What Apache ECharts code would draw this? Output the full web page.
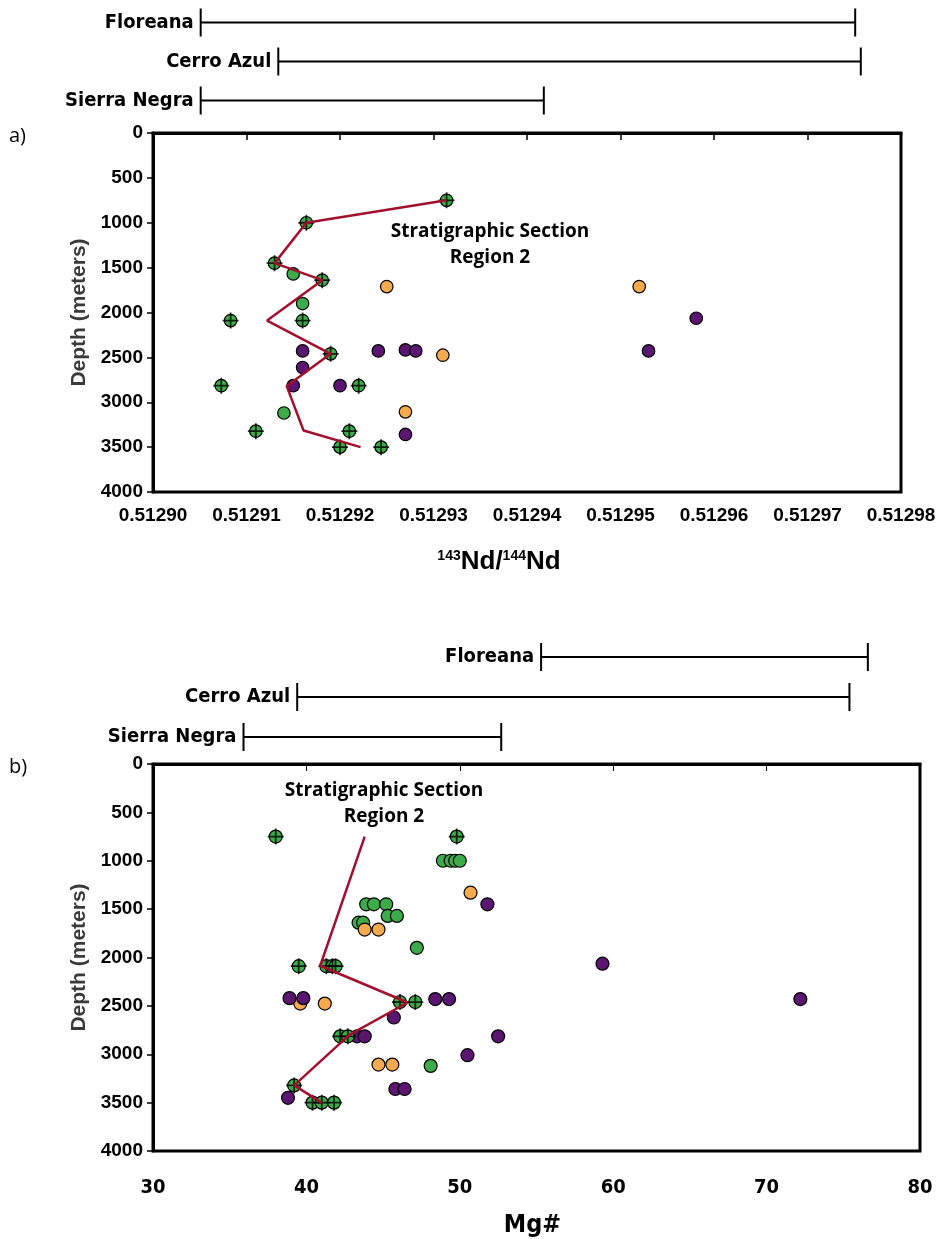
<!DOCTYPE html>
<html>
<head>
<meta charset="utf-8">
<title>Stratigraphic Section Region 2</title>
<script src="https://cdn.jsdelivr.net/npm/echarts/dist/echarts.min.js"></script>
<style>
  html, body { margin: 0; padding: 0; background: #fff; }
  #chart { width: 939px; height: 1239px; }
</style>
</head>
<body>
<div id="chart"></div>
<script>
// volcano ranges shown above each panel
const rangeNames = ["Floreana", "Cerro Azul", "Sierra Negra"];
const ndRanges = [[0.5129051, 0.5129751], [0.5129134, 0.5129757], [0.5129051, 0.5129418]];
const mgRanges = [[55.3, 76.6], [39.4, 75.4], [35.9, 52.7]];

// panel a) 143Nd/144Nd vs depth
const ndGreenCross = [[0.5129314, 750], [0.5129164, 1000], [0.512913, 1450], [0.5129181, 1640],
  [0.5129083, 2090], [0.512916, 2090], [0.512919, 2460], [0.5129073, 2815], [0.512922, 2815],
  [0.512911, 3322], [0.512921, 3322], [0.51292, 3500], [0.5129244, 3500]];
const ndGreen = [[0.512915, 1570], [0.512916, 1900], [0.512914, 3120]];
const ndPurple = [[0.512916, 2428], [0.5129241, 2428], [0.512927, 2417], [0.5129281, 2428],
  [0.512916, 2613], [0.512915, 2815], [0.51292, 2815], [0.512927, 3359], [0.5129581, 2064], [0.512953, 2428]];
const ndOrange = [[0.512925, 1711], [0.512931, 2476], [0.512927, 3107], [0.512952, 1711]];
const ndLine = [[0.5129314, 750], [0.5129164, 1000], [0.512913, 1450], [0.5129181, 1640], [0.5129122, 2090],
  [0.512919, 2460], [0.5129143, 2820], [0.5129161, 3315], [0.5129222, 3500]];

// panel b) Mg# vs depth
const mgGreenCross = [[38.0, 750], [49.8, 750], [39.5, 2090], [41.3, 2090], [41.7, 2090], [41.9, 2090],
  [46.1, 2460], [47.1, 2460], [42.2, 2815], [42.7, 2815], [39.2, 3322], [40.4, 3500], [41.0, 3500], [41.8, 3500]];
const mgGreen = [[48.9, 1000], [49.4, 1000], [49.7, 1000], [50.0, 1000], [43.9, 1450], [44.4, 1450], [45.2, 1450],
  [45.3, 1570], [45.9, 1570], [43.4, 1640], [43.7, 1640], [47.2, 1900], [48.1, 3120]];
const mgOrange = [[50.7, 1330], [43.8, 1711], [44.7, 1711], [39.6, 2476], [41.2, 2476], [44.7, 3107], [45.6, 3107]];
const mgPurple = [[51.8, 1450], [38.9, 2420], [39.8, 2420], [48.4, 2430], [49.3, 2430], [45.7, 2620],
  [43.3, 2815], [43.8, 2815], [52.5, 2815], [50.5, 3010], [45.8, 3359], [46.4, 3359], [38.8, 3450],
  [59.3, 2064], [72.2, 2430]];
const mgLine = [[43.8, 750], [40.9, 2085], [46.6, 2465], [42.8, 2800], [39.2, 3322], [41.0, 3500]];

const GREEN = "#3dab4a", PURPLE = "#5a1670", ORANGE = "#f6aa4e", RED = "#a3102e";
const PLUS = "path://M-1.1,-10H1.1V10H-1.1Z M-10,-1.1H10V1.1H-10Z";
const NARROW = "DejaVu Sans Condensed";

function rangeItem(params, api) {
  const a = api.coord([api.value(1), api.value(0)]);
  const b = api.coord([api.value(2), api.value(0)]);
  const h = 14;
  const st = { stroke: "#000", lineWidth: 2 };
  return {
    type: "group",
    children: [
      { type: "line", shape: { x1: a[0], y1: a[1], x2: b[0], y2: b[1] }, style: st },
      { type: "line", shape: { x1: a[0], y1: a[1] - h, x2: a[0], y2: a[1] + h }, style: st },
      { type: "line", shape: { x1: b[0], y1: b[1] - h, x2: b[0], y2: b[1] + h }, style: st },
      {
        type: "text", x: a[0] - 7, y: a[1],
        style: {
          text: rangeNames[params.dataIndex], align: "right", verticalAlign: "middle",
          fontFamily: NARROW, fontWeight: "bold", fontSize: 20, fill: "#000"
        }
      }
    ]
  };
}

function scatter(data, color, xi, size) {
  return {
    type: "scatter", xAxisIndex: xi, yAxisIndex: xi, data: data, symbolSize: size,
    itemStyle: { color: color, borderColor: "#000", borderWidth: 1.2, opacity: 1 },
    silent: true
  };
}
function plus(data, xi) {
  return {
    type: "scatter", xAxisIndex: xi, yAxisIndex: xi, data: data, symbol: PLUS, symbolSize: 16,
    itemStyle: { color: "#000" }, silent: true
  };
}
function redLine(data, xi) {
  return {
    type: "line", xAxisIndex: xi, yAxisIndex: xi, data: data, showSymbol: false, z: 5,
    lineStyle: { color: RED, width: 2.5 }, silent: true
  };
}

const depthAxis = (gi) => ({
  type: "value", gridIndex: gi, inverse: true, min: 0, max: 4000, interval: 500,
  name: "Depth (meters)", nameLocation: "middle", nameGap: 42, nameRotate: 90,
  nameTextStyle: { fontFamily: "Liberation Sans", fontWeight: "bold", fontSize: 21, color: "#3a3a3a" },
  axisLine: { show: true, lineStyle: { color: "#000", width: 3 } },
  axisTick: { show: true, length: 6, lineStyle: { color: "#000", width: 1.5 } },
  axisLabel: {
    fontFamily: "Liberation Sans", fontWeight: "bold", fontSize: 19, color: "#000", margin: 10,
    formatter: (v) => String(v)
  },
  splitLine: { show: false }
});

const chart = echarts.init(document.getElementById("chart"));
chart.setOption({
  animation: false,
  backgroundColor: "#fff",
  grid: [
    { left: 153, width: 748, top: 3, height: 117 },
    { left: 153, width: 748, top: 133, height: 359, show: true, borderColor: "#000", borderWidth: 3 },
    { left: 153, width: 767, top: 637, height: 120 },
    { left: 153, width: 767, top: 764, height: 389, show: true, borderColor: "#000", borderWidth: 3 }
  ],
  xAxis: [
    { type: "value", gridIndex: 0, min: 0.5129, max: 0.51298, show: false },
    {
      type: "value", gridIndex: 1, min: 0.5129, max: 0.51298, interval: 0.00001,
      name: "{s|143}{b|Nd/}{s|144}{b|Nd}", nameLocation: "middle", nameGap: 57,
      nameTextStyle: {
        padding: [0, 56, 0, 0],
        rich: {
          b: { fontFamily: "Liberation Sans", fontWeight: "bold", fontSize: 26, color: "#000" },
          s: { fontFamily: "Liberation Sans", fontWeight: "bold", fontSize: 14, color: "#000", verticalAlign: "top", padding: [0, 0, 12, 0] }
        }
      },
      axisLine: { show: true, lineStyle: { color: "#000", width: 3 } },
      axisTick: { show: true, length: 7, lineStyle: { color: "#000", width: 1.5 } },
      axisLabel: {
        fontFamily: "Liberation Sans", fontWeight: "bold", fontSize: 19, color: "#000", margin: 14,
        formatter: (v) => v.toFixed(5)
      },
      splitLine: { show: false }
    },
    { type: "value", gridIndex: 2, min: 30, max: 80, show: false },
    {
      type: "value", gridIndex: 3, min: 30, max: 80, interval: 10,
      name: "Mg#", nameLocation: "middle", nameGap: 62,
      nameTextStyle: { fontFamily: NARROW, fontWeight: "bold", fontSize: 25, color: "#000", padding: [0, 8, 0, 0] },
      axisLine: { show: true, lineStyle: { color: "#000", width: 3 } },
      axisTick: { show: true, length: 7, lineStyle: { color: "#000", width: 1 } },
      axisLabel: { fontFamily: NARROW, fontWeight: "bold", fontSize: 20, color: "#000", margin: 27 },
      splitLine: { show: false }
    }
  ],
  yAxis: [
    { type: "category", gridIndex: 0, data: rangeNames, inverse: true, show: false },
    depthAxis(1),
    { type: "category", gridIndex: 2, data: rangeNames, inverse: true, show: false },
    depthAxis(3)
  ],
  series: [
    {
      type: "custom", xAxisIndex: 0, yAxisIndex: 0, renderItem: rangeItem, clip: false, silent: true,
      encode: { x: [1, 2], y: 0 },
      data: ndRanges.map((r, i) => [i, r[0], r[1]])
    },
    scatter(ndGreen, GREEN, 1, 12.5),
    scatter(ndOrange, ORANGE, 1, 12.5),
    scatter(ndPurple, PURPLE, 1, 12.5),
    scatter(ndGreenCross, GREEN, 1, 12.5),
    plus(ndGreenCross, 1),
    redLine(ndLine, 1),
    {
      type: "custom", xAxisIndex: 2, yAxisIndex: 2, renderItem: rangeItem, clip: false, silent: true,
      encode: { x: [1, 2], y: 0 },
      data: mgRanges.map((r, i) => [i, r[0], r[1]])
    },
    scatter(mgGreen, GREEN, 3, 13),
    scatter(mgOrange, ORANGE, 3, 13),
    scatter(mgPurple, PURPLE, 3, 13),
    scatter(mgGreenCross, GREEN, 3, 13),
    plus(mgGreenCross, 3),
    redLine(mgLine, 3)
  ],
  graphic: [
    {
      type: "text", x: 490, y: 245, z: 10,
      style: {
        text: "Stratigraphic Section\nRegion 2", align: "center", verticalAlign: "middle",
        fontFamily: "Open Sans", fontWeight: "bold", fontSize: 19, lineHeight: 26, fill: "#000"
      }
    },
    {
      type: "text", x: 384, y: 804, z: 10,
      style: {
        text: "Stratigraphic Section\nRegion 2", align: "center", verticalAlign: "middle",
        fontFamily: "Open Sans", fontWeight: "bold", fontSize: 19, lineHeight: 26, fill: "#000"
      }
    },
    { type: "text", x: 9, y: 126, style: { text: "a)", fontFamily: "Open Sans", fontSize: 20, fill: "#000" } },
    { type: "text", x: 9, y: 757, style: { text: "b)", fontFamily: "Open Sans", fontSize: 20, fill: "#000" } }
  ]
});
</script>
</body>
</html>
